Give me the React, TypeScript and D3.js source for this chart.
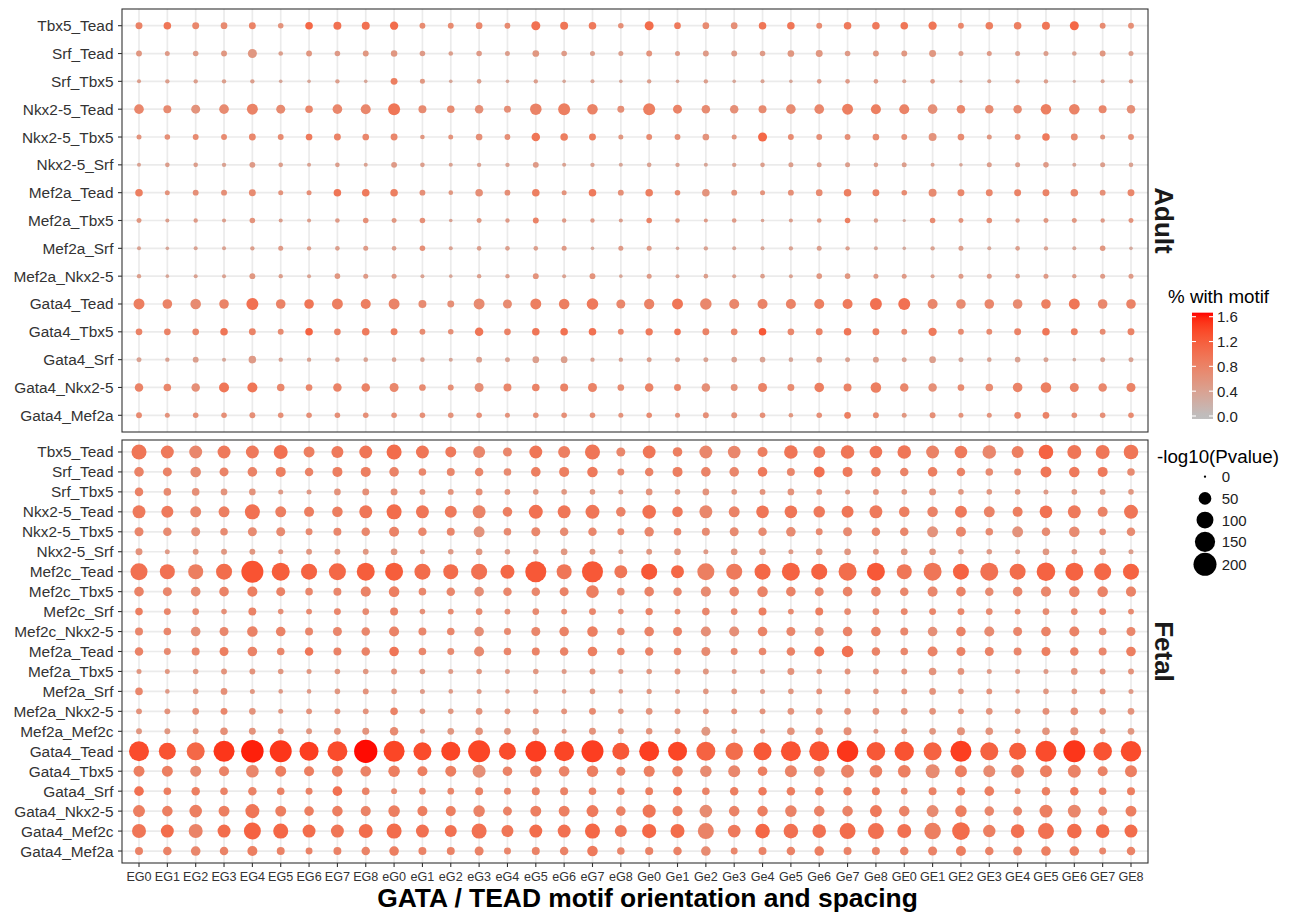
import React from "react";
import * as d3 from "d3";

// Motif orientation / spacing categories (x axis)
const xLabels = [
  "EG0", "EG1", "EG2", "EG3", "EG4", "EG5", "EG6", "EG7", "EG8",
  "eG0", "eG1", "eG2", "eG3", "eG4", "eG5", "eG6", "eG7", "eG8",
  "Ge0", "Ge1", "Ge2", "Ge3", "Ge4", "Ge5", "Ge6", "Ge7", "Ge8",
  "GE0", "GE1", "GE2", "GE3", "GE4", "GE5", "GE6", "GE7", "GE8",
];

// Motif pairs per tissue (top to bottom)
const adultRows = [
  "Tbx5_Tead", "Srf_Tead", "Srf_Tbx5", "Nkx2-5_Tead", "Nkx2-5_Tbx5", "Nkx2-5_Srf",
  "Mef2a_Tead", "Mef2a_Tbx5", "Mef2a_Srf", "Mef2a_Nkx2-5", "Gata4_Tead", "Gata4_Tbx5",
  "Gata4_Srf", "Gata4_Nkx2-5", "Gata4_Mef2a",
];
const fetalRows = [
  "Tbx5_Tead", "Srf_Tead", "Srf_Tbx5", "Nkx2-5_Tead", "Nkx2-5_Tbx5", "Nkx2-5_Srf",
  "Mef2c_Tead", "Mef2c_Tbx5", "Mef2c_Srf", "Mef2c_Nkx2-5", "Mef2a_Tead", "Mef2a_Tbx5",
  "Mef2a_Srf", "Mef2a_Nkx2-5", "Mef2a_Mef2c", "Gata4_Tead", "Gata4_Tbx5", "Gata4_Srf",
  "Gata4_Nkx2-5", "Gata4_Mef2c", "Gata4_Mef2a",
];

// -log10(P value), one array per motif pair, 36 spacings each
const adultLogP = [
  [10,13,10,9,10,5,13,15,15,17,6,6,9,6,21,15,13,5,21, 9,9,9,13,13,6,13,13,13,17,6,13,13,15,21,6,6],
  [6,3.4,5,6,21,2.5,6,5,6,8,5,2.5,5,3.4,9,5,3.4,3.4,6, 3.4,6,6,5,9,10,5,6,6,10,3.4,3.4,3.4,3.4,2.5,6,3.4],
  [1.4,2,2,2,2,0.8,0.8,2,0.8,10,3.4,0.8,2.5,0.8,2,0.8,1.4,0.8,2, 0.8,2,0.8,1.4,0.8,2.5,2.5,2.5,1.4,2.5,0.4,1.4,2,2,0.4,1.4,2],
  [25,15,21,25,35,21,13,25,28,44,15,13,18,10,40,44,32,10,44, 21,18,18,15,25,25,35,28,28,25,18,18,18,32,32,15,18],
  [3.4,5,6,6,10,6,9,10,9,10,2.5,3.4,9,6,18,13,10,3.4,6, 6,9,3.4,21,6,6,6,9,6,15,9,3.4,6,13,10,3.4,6],
  [1.4,2.5,2.5,2,6,2.5,1.4,2.5,1.4,6,2.5,1.4,2,2,6,1.4,2,1.4,2.5, 2,1.4,2,2.5,3.4,3.4,3.4,2.5,3.4,1.4,0.8,3.4,3.4,5,1.4,3.4,2.5],
  [13,3.4,6,6,10,3.4,3.4,13,13,13,6,2.5,13,6,13,3.4,13,6,13, 5,13,6,3.4,6,9,13,10,5,15,10,10,10,10,13,6,10],
  [3.4,1.4,2,1.4,5,1.4,1.4,2.5,5,3.4,5,0.8,3.4,2,6,2,2,1.4,5, 2.5,1.4,2.5,0.8,1.4,2.5,5,2,0.4,5,3.4,5,2,3.4,3.4,2,3.4],
  [1.4,0.8,1.4,1.4,2,3.4,2,2.5,3.4,2.5,5,1.4,2.5,2.5,2.5,3.4,0.8,3.4,3.4, 0.8,2,1.4,1.4,2,3.4,2,1.4,0.8,2,3.4,1.4,2.5,2,1.4,5,0.8],
  [2,0.8,1.4,1.4,6,2,1.4,5,3.4,3.4,1.4,0.8,2,2,6,1.4,6,0.8,3.4, 1.4,2.5,1.4,2.5,1.4,5,5,3.4,3.4,1.4,3.4,3.4,2.5,3.4,2,3.4,3.4],
  [35,25,32,25,44,25,25,35,28,35,15,10,35,21,35,32,40,21,30, 35,40,28,28,28,28,28,44,44,28,25,25,25,25,35,25,25],
  [9,9,9,13,10,6,13,9,13,10,6,5,18,9,13,13,13,6,12, 9,10,9,13,9,10,13,10,6,17,6,6,10,13,10,6,10],
  [3.4,2,6,1.4,13,2,2,2.5,2.5,2.5,2.5,1.4,6,3.4,9,9,2,2,3.4, 3.4,3.4,5,5,2.5,6,3.4,6,3.4,9,3.4,2.5,5,3.4,0.8,3.4,3.4],
  [18,13,18,28,28,13,9,18,18,21,9,6,21,15,13,15,21,9,18, 10,18,10,21,10,25,15,32,18,18,9,13,25,32,21,18,21],
  [6,3.4,5,5,6,5,5,5,5,5,5,5,5,3.4,5,5,5,3.4,5, 3.4,6,6,5,2.5,5,9,6,3.4,6,3.4,3.4,9,9,5,5,5],
];

// % of regions with the motif pair
const adultPct = [
  [0.8,0.95,0.75,0.7,0.8,0.6,1.1,1.0,1.0,1.05,0.7,0.7,0.75,0.7,1.0,0.95,0.9,0.65,1.05, 0.9,0.7,0.65,0.95,0.95,0.7,0.9,0.9,0.95,0.95,0.75,0.85,0.85,0.95,1.1,0.7,0.65],
  [0.55,0.5,0.5,0.55,0.55,0.45,0.55,0.5,0.55,0.55,0.5,0.45,0.5,0.45,0.55,0.5,0.45,0.45,0.6, 0.5,0.5,0.5,0.5,0.55,0.55,0.5,0.55,0.55,0.55,0.45,0.5,0.45,0.45,0.4,0.55,0.45],
  [0.45,0.45,0.45,0.45,0.45,0.35,0.35,0.45,0.35,0.85,0.55,0.35,0.45,0.35,0.45,0.35,0.4,0.35,0.45, 0.35,0.45,0.35,0.4,0.35,0.5,0.5,0.5,0.4,0.5,0.3,0.4,0.45,0.45,0.3,0.4,0.45],
  [0.75,0.7,0.6,0.7,0.8,0.7,0.75,0.75,0.75,0.95,0.7,0.7,0.65,0.65,0.8,0.85,0.8,0.65,0.85, 0.8,0.7,0.65,0.7,0.7,0.75,0.85,0.85,0.8,0.65,0.75,0.7,0.7,0.85,0.8,0.75,0.65],
  [0.6,0.65,0.7,0.7,0.75,0.7,0.9,0.8,0.75,0.75,0.55,0.6,0.65,0.65,0.95,0.85,0.85,0.55,0.7, 0.65,0.6,0.55,1.1,0.7,0.65,0.65,0.7,0.65,0.6,0.7,0.55,0.65,0.9,0.7,0.55,0.65],
  [0.4,0.45,0.45,0.4,0.5,0.45,0.4,0.45,0.4,0.5,0.45,0.4,0.4,0.4,0.5,0.4,0.4,0.35,0.4, 0.4,0.35,0.4,0.45,0.45,0.45,0.45,0.45,0.45,0.4,0.35,0.45,0.45,0.5,0.35,0.45,0.4],
  [0.85,0.6,0.65,0.65,0.7,0.6,0.65,0.95,0.9,0.85,0.65,0.55,0.65,0.65,0.85,0.6,0.9,0.65,0.85, 0.7,0.6,0.6,0.6,0.65,0.7,0.85,0.8,0.7,0.7,0.75,0.75,0.8,0.8,0.75,0.65,0.75],
  [0.55,0.45,0.5,0.45,0.6,0.45,0.45,0.5,0.65,0.55,0.65,0.4,0.55,0.5,0.8,0.5,0.5,0.45,0.8, 0.55,0.5,0.5,0.4,0.45,0.55,0.85,0.45,0.3,0.7,0.6,0.65,0.5,0.55,0.55,0.5,0.6],
  [0.4,0.35,0.4,0.4,0.45,0.5,0.45,0.45,0.5,0.45,0.65,0.4,0.45,0.45,0.45,0.5,0.35,0.5,0.5, 0.35,0.4,0.35,0.35,0.4,0.45,0.45,0.35,0.3,0.4,0.45,0.35,0.45,0.4,0.35,0.55,0.3],
  [0.45,0.35,0.4,0.4,0.55,0.45,0.4,0.55,0.5,0.5,0.4,0.35,0.45,0.45,0.6,0.4,0.6,0.35,0.5, 0.4,0.45,0.4,0.45,0.4,0.55,0.55,0.5,0.5,0.4,0.5,0.5,0.45,0.5,0.45,0.5,0.5],
  [0.85,0.8,0.7,0.8,1.0,0.8,0.95,0.85,0.85,0.8,0.7,0.65,0.7,0.7,0.85,0.85,0.9,0.75,0.8, 0.95,0.75,0.75,0.8,0.8,0.85,0.9,1.0,1.0,0.75,0.7,0.75,0.7,0.85,0.95,0.75,0.8],
  [0.8,0.8,0.75,0.95,0.8,0.7,1.15,0.8,0.9,0.85,0.7,0.65,0.95,0.8,0.95,1.0,1.0,0.75,0.9, 0.95,0.8,0.75,1.25,0.75,0.8,0.95,0.85,0.7,0.9,0.7,0.7,0.8,0.95,0.85,0.7,0.8],
  [0.4,0.4,0.45,0.35,0.5,0.4,0.4,0.4,0.4,0.4,0.4,0.35,0.45,0.4,0.45,0.45,0.4,0.4,0.45, 0.4,0.4,0.4,0.4,0.35,0.45,0.4,0.45,0.4,0.45,0.35,0.4,0.4,0.4,0.3,0.4,0.4],
  [0.8,0.75,0.65,0.95,0.95,0.75,0.75,0.8,0.8,0.75,0.7,0.65,0.65,0.75,0.8,0.8,0.8,0.7,0.8, 0.75,0.65,0.6,0.8,0.7,0.85,0.8,0.85,0.75,0.65,0.7,0.7,0.8,0.85,0.8,0.75,0.8],
  [0.7,0.6,0.65,0.65,0.65,0.65,0.65,0.65,0.65,0.65,0.65,0.6,0.65,0.6,0.65,0.65,0.65,0.6,0.7, 0.6,0.65,0.6,0.65,0.55,0.65,0.85,0.7,0.55,0.65,0.6,0.6,0.75,0.8,0.65,0.65,0.7],
];

const fetalLogP = [
  [76,53,53,53,53,64,35,44,53,76,53,35,44,21,53,44,76,21,52, 25,53,50,28,60,44,60,50,60,53,50,60,44,71,64,64,71],
  [25,21,32,21,25,28,18,28,28,25,13,15,18,13,25,28,32,10,18, 28,25,25,25,15,35,28,25,18,25,18,13,10,35,32,28,13],
  [18,13,13,9,9,3.4,3.4,9,10,10,6,6,10,6,5,5,5,3.4,9, 5,9,5,6,9,6,3.4,6,5,10,5,5,5,3.4,5,6,5],
  [53,44,35,35,76,35,28,32,53,76,53,44,53,25,64,53,64,25,60, 32,53,35,50,50,40,44,53,32,32,44,35,28,50,53,28,64],
  [21,18,21,13,21,21,10,15,18,28,18,15,35,13,21,18,18,10,24, 13,15,21,18,25,10,21,18,18,35,28,13,35,18,32,9,18],
  [10,3.4,6,6,6,3.4,6,6,6,9,3.4,5,9,5,5,9,6,3.4,6, 9,3.4,9,9,3.4,9,9,6,9,9,5,5,3.4,9,5,9,3.4],
  [101,76,76,88,181,115,88,101,115,115,88,76,88,64,164,76,164,53,88, 53,101,88,88,115,88,115,115,76,115,88,115,88,124,115,101,88],
  [25,21,25,25,28,21,13,15,28,32,13,18,25,18,18,21,50,13,25, 18,28,25,32,25,21,25,25,18,28,25,18,25,28,32,32,28],
  [13,10,9,5,15,5,6,10,9,15,5,6,9,6,9,6,10,5,12, 6,13,9,15,6,15,9,9,10,10,10,9,6,9,9,10,6],
  [15,13,25,21,32,25,15,21,18,28,15,13,25,10,21,25,32,13,25, 21,28,28,25,21,21,25,25,15,25,25,28,21,25,28,13,21],
  [18,10,15,21,25,13,18,15,18,25,13,10,28,13,15,18,25,13,17, 13,21,10,13,18,28,40,18,13,28,21,21,15,21,18,15,25],
  [3.4,3.4,5,6,6,5,3.4,5,5,6,5,3.4,5,3.4,5,3.4,6,3.4,5, 6,6,3.4,3.4,10,5,6,6,6,13,9,3.4,3.4,3.4,9,6,6],
  [13,2.5,5,9,3.4,2.5,2.5,5,6,5,3.4,2.5,3.4,2.5,3.4,2.5,5,2.5,4, 3.4,5,5,3.4,5,6,6,5,6,9,5,6,2.5,5,5,6,3.4],
  [6,6,9,10,9,3.4,6,6,6,13,5,5,9,6,6,6,10,5,9, 6,6,6,6,9,9,9,9,9,9,6,9,5,10,13,9,9],
  [6,6,6,13,10,6,6,9,10,18,3.4,9,13,9,9,3.4,10,6,8, 6,21,5,3.4,13,13,15,3.4,6,9,15,13,5,13,15,6,9],
  [146,101,115,164,190,181,130,146,205,164,115,130,181,101,164,146,181,101,146, 130,130,108,115,146,146,170,124,136,115,164,115,101,164,181,124,155],
  [35,35,35,28,50,35,28,35,32,40,28,35,53,25,40,32,40,21,36, 32,40,44,25,44,35,53,50,50,64,44,44,53,44,53,28,44],
  [25,13,18,13,18,13,10,25,13,6,9,9,15,10,15,15,13,13,14, 21,13,18,18,18,18,18,15,9,15,18,25,6,18,18,13,15],
  [44,32,50,35,64,35,25,32,28,40,28,28,40,21,35,35,44,25,55, 28,50,32,32,40,32,32,44,32,44,40,25,21,53,53,21,35],
  [64,53,64,53,101,76,53,53,64,76,53,44,76,44,53,53,76,44,66, 64,88,50,71,71,60,88,88,64,95,110,48,60,88,71,60,53],
  [15,18,25,18,28,15,10,15,18,25,15,15,21,10,15,18,32,13,16, 18,25,10,15,18,25,15,15,18,21,28,18,21,25,25,10,18],
];

const fetalPct = [
  [0.95,0.9,0.75,0.9,0.9,1.0,0.85,0.9,0.95,1.05,0.95,0.9,0.75,0.75,0.95,0.85,0.95,0.75,0.95, 0.85,0.75,0.75,0.85,0.95,0.9,0.95,0.95,0.95,0.8,0.9,0.75,0.85,1.15,0.95,0.95,0.95],
  [0.8,0.8,0.7,0.8,0.8,0.85,0.8,0.85,0.85,0.8,0.75,0.75,0.75,0.7,0.85,0.85,0.9,0.7,0.8, 0.85,0.8,0.75,0.9,0.75,1.0,0.9,0.85,0.8,0.85,0.8,0.7,0.7,0.95,0.9,0.9,0.7],
  [0.8,0.7,0.65,0.6,0.6,0.5,0.5,0.6,0.65,0.65,0.6,0.6,0.65,0.6,0.55,0.55,0.55,0.5,0.6, 0.55,0.6,0.55,0.6,0.6,0.6,0.5,0.6,0.55,0.6,0.55,0.55,0.55,0.5,0.55,0.55,0.55],
  [0.9,0.9,0.75,0.85,1.0,0.85,0.85,0.85,0.95,1.05,0.95,0.9,0.8,0.85,1.0,0.95,0.95,0.8,1.0, 0.9,0.75,0.8,0.95,0.95,0.9,0.95,0.9,0.85,0.8,0.9,0.8,0.85,1.0,0.9,0.8,0.95],
  [0.75,0.7,0.65,0.7,0.7,0.7,0.7,0.75,0.75,0.8,0.75,0.75,0.6,0.7,0.75,0.7,0.75,0.7,0.75, 0.75,0.7,0.7,0.7,0.7,0.7,0.7,0.75,0.75,0.6,0.75,0.7,0.6,0.7,0.7,0.65,0.7],
  [0.6,0.5,0.55,0.55,0.55,0.5,0.55,0.55,0.55,0.55,0.5,0.5,0.55,0.5,0.5,0.55,0.55,0.45,0.55, 0.55,0.5,0.55,0.55,0.5,0.55,0.55,0.55,0.55,0.55,0.5,0.5,0.45,0.55,0.5,0.55,0.45],
  [1.0,1.0,0.85,1.05,1.3,1.2,1.15,1.1,1.2,1.2,1.05,1.05,1.0,1.1,1.25,0.95,1.25,0.95,1.25, 1.1,0.85,0.9,1.1,1.15,1.15,1.05,1.25,0.95,0.95,1.15,1.0,1.05,1.15,1.15,1.1,1.15],
  [0.8,0.75,0.7,0.8,0.85,0.8,0.75,0.75,0.8,0.85,0.75,0.75,0.65,0.75,0.75,0.8,0.85,0.7,0.8, 0.75,0.7,0.75,0.8,0.8,0.75,0.8,0.8,0.75,0.75,0.8,0.7,0.75,0.75,0.8,0.8,0.8],
  [0.85,0.75,0.7,0.65,0.8,0.65,0.7,0.75,0.7,0.8,0.65,0.7,0.7,0.65,0.7,0.7,0.75,0.65,0.8, 0.7,0.75,0.7,0.85,0.7,0.85,0.7,0.7,0.75,0.75,0.75,0.7,0.7,0.7,0.7,0.75,0.7],
  [0.75,0.75,0.65,0.75,0.8,0.8,0.75,0.75,0.75,0.8,0.75,0.75,0.65,0.7,0.75,0.8,0.85,0.7,0.8, 0.8,0.65,0.65,0.8,0.75,0.65,0.8,0.8,0.75,0.65,0.8,0.7,0.75,0.8,0.8,0.7,0.75],
  [0.8,0.7,0.75,0.85,0.8,0.75,0.95,0.8,0.8,0.95,0.75,0.7,0.7,0.75,0.8,0.8,0.85,0.75,0.8, 0.75,0.7,0.7,0.75,0.8,0.95,1.0,0.8,0.75,0.8,0.8,0.8,0.75,0.85,0.8,0.75,0.85],
  [0.55,0.55,0.55,0.6,0.6,0.55,0.55,0.55,0.55,0.6,0.55,0.5,0.55,0.5,0.55,0.5,0.6,0.5,0.55, 0.6,0.55,0.5,0.5,0.6,0.55,0.6,0.6,0.6,0.6,0.6,0.5,0.5,0.5,0.6,0.6,0.6],
  [0.75,0.5,0.55,0.65,0.55,0.5,0.5,0.55,0.6,0.55,0.5,0.5,0.5,0.5,0.5,0.5,0.55,0.5,0.55, 0.5,0.55,0.55,0.5,0.55,0.6,0.6,0.55,0.6,0.6,0.55,0.6,0.5,0.55,0.55,0.6,0.5],
  [0.6,0.6,0.65,0.75,0.6,0.55,0.6,0.6,0.6,0.8,0.55,0.55,0.6,0.6,0.6,0.6,0.7,0.55,0.6, 0.6,0.6,0.6,0.6,0.6,0.6,0.6,0.6,0.6,0.6,0.6,0.6,0.55,0.65,0.65,0.6,0.6],
  [0.55,0.55,0.55,0.65,0.6,0.55,0.55,0.6,0.6,0.7,0.5,0.55,0.6,0.55,0.55,0.5,0.6,0.55,0.6, 0.55,0.55,0.55,0.5,0.6,0.65,0.65,0.5,0.55,0.55,0.6,0.6,0.55,0.6,0.6,0.55,0.55],
  [1.35,1.3,1.1,1.5,1.6,1.5,1.45,1.35,1.65,1.4,1.35,1.4,1.4,1.35,1.45,1.4,1.45,1.25,1.45, 1.4,1.15,1.05,1.25,1.3,1.3,1.5,1.25,1.3,1.15,1.45,1.15,1.2,1.35,1.5,1.3,1.35],
  [0.85,0.85,0.7,0.8,0.75,0.85,0.85,0.85,0.8,0.85,0.85,0.85,0.65,0.8,0.85,0.8,0.85,0.8,0.85, 0.85,0.7,0.75,0.85,0.8,0.7,0.8,0.85,0.85,0.7,0.85,0.7,0.8,0.85,0.8,0.8,0.85],
  [1.0,0.85,0.85,0.8,0.8,0.8,0.8,1.0,0.8,0.7,0.75,0.75,0.8,0.75,0.8,0.8,0.8,0.8,0.85, 0.95,0.8,0.85,0.9,0.85,0.85,0.85,0.85,0.75,0.8,0.85,0.85,0.7,0.85,0.9,0.8,0.85],
  [0.85,0.85,0.85,0.85,0.95,0.85,0.85,0.85,0.8,0.85,0.85,0.85,0.8,0.8,0.85,0.85,0.9,0.8,0.95, 0.85,0.7,0.8,0.85,0.8,0.8,0.8,0.9,0.8,0.7,0.85,0.75,0.75,0.85,0.75,0.75,0.85],
  [0.95,1.05,0.8,1.05,1.15,1.1,1.05,0.95,1.05,1.05,1.0,1.0,1.0,0.95,1.05,1.0,1.1,0.95,1.1, 1.05,0.8,0.9,1.1,1.0,1.0,1.05,1.0,1.0,0.85,1.05,0.85,1.0,1.0,1.05,1.05,1.05],
  [0.8,0.8,0.75,0.8,0.85,0.8,0.8,0.8,0.8,0.85,0.8,0.8,0.8,0.75,0.8,0.8,0.9,0.75,0.8, 0.8,0.7,0.75,0.8,0.8,0.85,0.8,0.8,0.8,0.8,0.85,0.8,0.8,0.85,0.85,0.75,0.8],
];

// Legend breaks
const pctBreaks = [0, 0.4, 0.8, 1.2, 1.6];
const logPBreaks = [0, 50, 100, 150, 200];

const FONT = "'Liberation Sans', Arial, Helvetica, sans-serif";

export default function App() {
  const W = 1291;
  const H = 920;
  const left = 122;
  const right = 1148;

  const panels = [
    { name: "Adult", rows: adultRows, logp: adultLogP, pct: adultPct, top: 9, bottom: 432 },
    { name: "Fetal", rows: fetalRows, logp: fetalLogP, pct: fetalPct, top: 440, bottom: 863 },
  ];

  const x = d3.scalePoint<string>().domain(xLabels).range([left, right]).padding(0.6);
  const size = d3.scaleSqrt().domain([0, 200]).range([1.15, 11.5]);
  const pctMax = 1.665;
  const color = d3
    .scaleLinear<string>()
    .domain([0, pctMax])
    .range(["#bebebe", "#ff0000"])
    .interpolate(d3.interpolateLab)
    .clamp(true);

  // colour bar geometry
  const barX = 1192;
  const barW = 21;
  const barY = d3.scaleLinear().domain([0, 1.6]).range([416, 316.7]);
  const barTop = barY(pctMax);
  const barBottom = barY(-0.048);
  const gradStops = d3.range(0, 1.0001, 0.05).map((t) => ({
    offset: t,
    c: color(pctMax - t * (pctMax + 0.048)),
  }));

  // size legend keys stacked
  const keyX = 1205;
  const keyTop = 465.85;
  let acc = keyTop;
  const keys = logPBreaks.map((b) => {
    const h = Math.max(21.7, 2 * size(b) + 0.3);
    const cy = acc + h / 2;
    acc += h;
    return { b, cy };
  });

  return (
    <svg
      width={W}
      height={H}
      viewBox={`0 0 ${W} ${H}`}
      style={{ position: "absolute", left: 0, top: 0, background: "#fff" }}
      fontFamily={FONT}
    >
      <rect x={0} y={0} width={W} height={H} fill="#fff" />
      <defs>
        <linearGradient id="pctGrad" x1="0" y1="0" x2="0" y2="1">
          {gradStops.map((s, i) => (
            <stop key={i} offset={s.offset} stopColor={s.c} />
          ))}
        </linearGradient>
      </defs>

      {panels.map((p) => {
        const y = d3.scalePoint<string>().domain(p.rows).range([p.top, p.bottom]).padding(0.6);
        const cy = (p.top + p.bottom) / 2;
        return (
          <g key={p.name}>
            <rect x={left} y={p.top} width={right - left} height={p.bottom - p.top} fill="#fff" />
            {/* grid */}
            {p.rows.map((r) => (
              <line key={"h" + r} x1={left} x2={right} y1={y(r)} y2={y(r)} stroke="#ebebeb" strokeWidth={1.7} />
            ))}
            {xLabels.map((c) => (
              <line key={"v" + c} x1={x(c)} x2={x(c)} y1={p.top} y2={p.bottom} stroke="#ebebeb" strokeWidth={1.7} />
            ))}
            {/* points */}
            {p.rows.map((r, ri) =>
              xLabels.map((c, ci) => (
                <circle
                  key={r + c}
                  cx={x(c)}
                  cy={y(r)}
                  r={size(p.logp[ri][ci])}
                  fill={color(p.pct[ri][ci])}
                />
              ))
            )}
            <rect
              x={left}
              y={p.top}
              width={right - left}
              height={p.bottom - p.top}
              fill="none"
              stroke="#333"
              strokeWidth={1.1}
            />
            {/* y axis */}
            {p.rows.map((r) => (
              <g key={"t" + r}>
                <line x1={left - 4} x2={left} y1={y(r)} y2={y(r)} stroke="#333" strokeWidth={1.1} />
                <text
                  x={left - 8.5}
                  y={y(r)}
                  textAnchor="end"
                  dominantBaseline="central"
                  fontSize={15.4}
                  fill="#333"
                >
                  {r}
                </text>
              </g>
            ))}
            {/* facet strip label */}
            <text
              x={1164}
              y={cy}
              transform={`rotate(90, 1164, ${cy})`}
              textAnchor="middle"
              dominantBaseline="central"
              fontSize={26}
              fontWeight="bold"
              fill="#1a1a1a"
            >
              {p.name}
            </text>
          </g>
        );
      })}

      {/* x axis */}
      {xLabels.map((c) => (
        <g key={"xt" + c}>
          <line x1={x(c)} x2={x(c)} y1={863} y2={867} stroke="#333" strokeWidth={1.1} />
          <text x={x(c)} y={881} textAnchor="middle" fontSize={12.6} fill="#333">
            {c}
          </text>
        </g>
      ))}
      <text x={647.5} y={907} textAnchor="middle" fontSize={26.4} fontWeight="bold" fill="#000">
        GATA / TEAD motif orientation and spacing
      </text>

      {/* colour legend */}
      <text x={1168} y={302.5} fontSize={18.75} fill="#000">
        % with motif
      </text>
      <rect x={barX} y={barTop} width={barW} height={barBottom - barTop} fill="url(#pctGrad)" />
      {pctBreaks.map((b) => (
        <g key={"cb" + b}>
          <line x1={barX} x2={barX + 4} y1={barY(b)} y2={barY(b)} stroke="#fff" strokeWidth={1.1} />
          <line x1={barX + barW - 4} x2={barX + barW} y1={barY(b)} y2={barY(b)} stroke="#fff" strokeWidth={1.1} />
          <text x={1217} y={barY(b)} dominantBaseline="central" fontSize={15} fill="#222">
            {b.toFixed(1)}
          </text>
        </g>
      ))}

      {/* size legend */}
      <text x={1157} y={463} fontSize={18.75} fill="#000">
        -log10(Pvalue)
      </text>
      {keys.map((k) => (
        <g key={"sk" + k.b}>
          <circle cx={keyX} cy={k.cy} r={size(k.b)} fill="#000" />
          <text x={1221.7} y={k.cy} dominantBaseline="central" fontSize={15} fill="#222">
            {k.b}
          </text>
        </g>
      ))}
    </svg>
  );
}
